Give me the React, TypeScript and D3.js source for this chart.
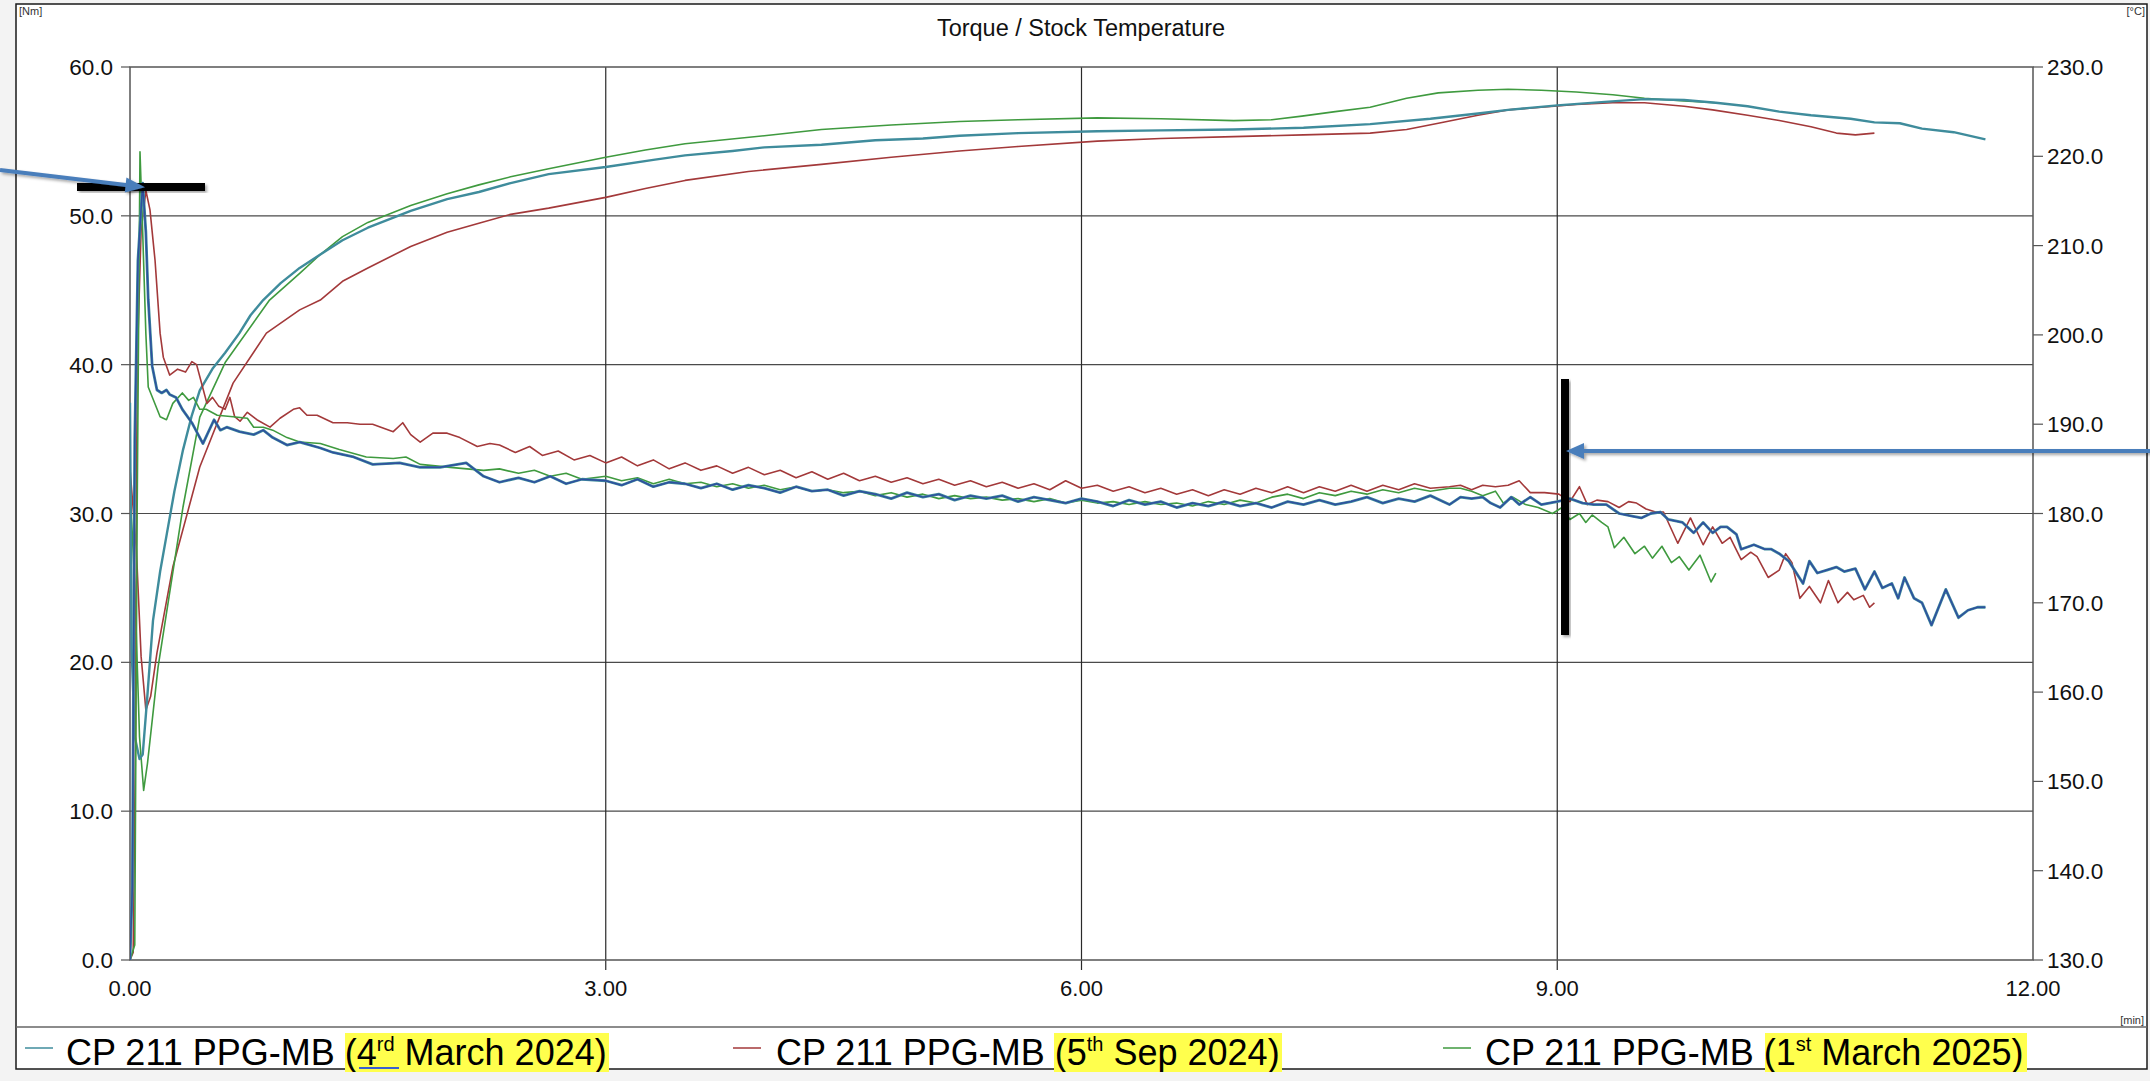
import React from "react";
import * as d3 from "d3";

type P = [number, number];

const xTicks = [0, 3, 6, 9, 12];
const leftTicks = [0, 10, 20, 30, 40, 50, 60];
const rightTicks = [130, 140, 150, 160, 170, 180, 190, 200, 210, 220, 230];
const titleText = "Torque / Stock Temperature";

// Torque [min, Nm]
const torque1: P[] = [
  [0, 0], [0.015, 5], [0.03, 35], [0.05, 47], [0.08, 52.2], [0.1, 48.9], [0.115, 44.4], [0.14, 39.9], [0.17, 38.3],
  [0.2, 38.1], [0.23, 38.3], [0.25, 38.0], [0.29, 37.8], [0.33, 37.0], [0.39, 36.1], [0.46, 34.7], [0.53, 36.3],
  [0.57, 35.6], [0.61, 35.8], [0.69, 35.5], [0.78, 35.3], [0.84, 35.6], [0.9, 35.1], [0.99, 34.6], [1.07, 34.8],
  [1.2, 34.4], [1.28, 34.1], [1.41, 33.8], [1.53, 33.3], [1.7, 33.4], [1.83, 33.1], [1.955, 33.1], [2.12, 33.4],
  [2.23, 32.5], [2.33, 32.1], [2.45, 32.4], [2.55, 32.1], [2.65, 32.5], [2.75, 32.0], [2.85, 32.3], [3.0, 32.2],
  [3.1, 31.9], [3.2, 32.3], [3.3, 31.8], [3.4, 32.1], [3.5, 32.0], [3.6, 31.7], [3.7, 32.0], [3.8, 31.6],
  [3.9, 31.9], [4.0, 31.7], [4.1, 31.4], [4.2, 31.8], [4.3, 31.5], [4.4, 31.6], [4.5, 31.2], [4.6, 31.5],
  [4.7, 31.3], [4.8, 31.0], [4.9, 31.4], [5.0, 31.1], [5.1, 31.3], [5.2, 30.9], [5.3, 31.2], [5.4, 31.0],
  [5.5, 31.2], [5.6, 30.8], [5.7, 31.1], [5.8, 30.9], [5.9, 30.7], [6.0, 31.0], [6.1, 30.8], [6.2, 30.5],
  [6.3, 30.9], [6.4, 30.6], [6.5, 30.8], [6.6, 30.4], [6.7, 30.7], [6.8, 30.5], [6.9, 30.8], [7.0, 30.5],
  [7.1, 30.7], [7.2, 30.4], [7.3, 30.8], [7.4, 30.6], [7.5, 30.9], [7.6, 30.6], [7.7, 30.8], [7.8, 31.1],
  [7.9, 30.7], [8.0, 31.0], [8.1, 30.8], [8.2, 31.2], [8.32, 30.6], [8.39, 31.1], [8.46, 31.0], [8.53, 31.1],
  [8.58, 30.7], [8.64, 30.4], [8.71, 31.1], [8.76, 30.6], [8.83, 31.1], [8.9, 30.6], [9.0, 30.8], [9.08, 31.0],
  [9.16, 30.7], [9.23, 30.6], [9.31, 30.6], [9.39, 30.0], [9.48, 29.8], [9.53, 29.7], [9.59, 30.0], [9.65, 30.1],
  [9.7, 29.6], [9.79, 29.4], [9.86, 28.7], [9.92, 29.4], [9.98, 28.7], [10.03, 29.1], [10.07, 29.1], [10.13, 28.6],
  [10.16, 27.6], [10.24, 27.9], [10.31, 27.6], [10.35, 27.6], [10.4, 27.3], [10.46, 26.8], [10.55, 25.3],
  [10.59, 26.8], [10.64, 26.0], [10.7, 26.2], [10.76, 26.4], [10.81, 26.1], [10.88, 26.3], [10.94, 24.9],
  [11.0, 26.1], [11.05, 25.0], [11.11, 25.3], [11.15, 24.3], [11.19, 25.7], [11.25, 24.3], [11.3, 24.0],
  [11.36, 22.5], [11.45, 24.9], [11.53, 23.0], [11.59, 23.5], [11.65, 23.7], [11.7, 23.7],
];

const torque2: P[] = [
  [0, 0], [0.02, 0.5], [0.035, 15], [0.045, 40], [0.07, 49], [0.1, 51.7], [0.126, 50.4], [0.158, 47], [0.19, 42.1],
  [0.21, 40.5], [0.25, 39.3], [0.3, 39.7], [0.35, 39.5], [0.39, 40.2], [0.42, 40.0], [0.45, 38.8], [0.485, 37.4],
  [0.52, 37.8], [0.56, 37.2], [0.6, 37.0], [0.63, 37.8], [0.66, 36.5], [0.694, 36.2], [0.74, 36.8], [0.8, 36.3],
  [0.883, 35.8], [0.946, 36.4], [1.03, 37.0], [1.07, 37.1], [1.116, 36.6], [1.18, 36.6], [1.28, 36.1], [1.37, 36.1],
  [1.45, 36.0], [1.53, 36.0], [1.66, 35.5], [1.72, 36.1], [1.77, 35.3], [1.83, 34.8], [1.91, 35.4], [2.0, 35.4],
  [2.08, 35.1], [2.19, 34.5], [2.27, 34.7], [2.33, 34.6], [2.43, 34.1], [2.52, 34.5], [2.6, 33.9], [2.7, 34.2],
  [2.8, 33.6], [2.9, 33.9], [3.0, 33.4], [3.1, 33.8], [3.2, 33.2], [3.3, 33.6], [3.4, 33.0], [3.5, 33.4],
  [3.6, 32.9], [3.7, 33.2], [3.8, 32.7], [3.9, 33.1], [4.0, 32.6], [4.1, 32.9], [4.2, 32.4], [4.3, 32.8],
  [4.4, 32.3], [4.5, 32.7], [4.6, 32.2], [4.7, 32.5], [4.8, 32.1], [4.9, 32.4], [5.0, 32.0], [5.1, 32.3],
  [5.2, 31.9], [5.3, 32.2], [5.4, 31.8], [5.5, 32.1], [5.6, 31.7], [5.7, 32.0], [5.8, 31.6], [5.9, 32.2],
  [6.0, 31.7], [6.1, 31.9], [6.2, 31.5], [6.3, 31.8], [6.4, 31.4], [6.5, 31.7], [6.6, 31.3], [6.7, 31.6],
  [6.8, 31.2], [6.9, 31.6], [7.0, 31.3], [7.1, 31.7], [7.2, 31.4], [7.3, 31.8], [7.4, 31.4], [7.5, 31.8],
  [7.6, 31.5], [7.7, 31.9], [7.8, 31.5], [7.9, 31.9], [8.0, 31.6], [8.1, 32.0], [8.2, 31.7], [8.32, 31.8],
  [8.39, 31.9], [8.46, 31.6], [8.53, 31.9], [8.61, 31.8], [8.69, 31.9], [8.76, 32.2], [8.83, 31.4], [8.92, 31.4],
  [9.01, 31.3], [9.08, 30.8], [9.14, 31.8], [9.19, 30.6], [9.25, 30.9], [9.32, 30.8], [9.39, 30.4], [9.45, 30.8],
  [9.5, 30.7], [9.56, 30.3], [9.62, 30.1], [9.67, 30.1], [9.76, 28.0], [9.84, 29.7], [9.92, 27.9], [9.98, 29.1],
  [10.04, 28.0], [10.09, 28.4], [10.16, 26.9], [10.22, 27.4], [10.26, 27.1], [10.33, 25.7], [10.4, 26.2],
  [10.44, 27.3], [10.48, 26.7], [10.53, 24.3], [10.59, 25.1], [10.66, 24.0], [10.71, 25.5], [10.77, 24.0],
  [10.83, 24.7], [10.87, 24.2], [10.93, 24.5], [10.97, 23.7], [11.0, 24.0],
];

const torque3: P[] = [
  [0, 0], [0.03, 1], [0.045, 30], [0.063, 54.3], [0.08, 48.9], [0.1, 42.1], [0.115, 38.5], [0.19, 36.5], [0.23, 36.3],
  [0.27, 37.4], [0.33, 38.1], [0.37, 37.6], [0.4, 37.8], [0.44, 37.0], [0.48, 37.0], [0.55, 36.6], [0.65, 36.5],
  [0.74, 36.4], [0.78, 35.8], [0.84, 35.8], [0.9, 35.6], [0.99, 35.1], [1.07, 34.8], [1.2, 34.7], [1.32, 34.3],
  [1.49, 33.8], [1.66, 33.7], [1.74, 33.8], [1.83, 33.3], [2.02, 33.1], [2.23, 32.9], [2.33, 33.0], [2.45, 32.7],
  [2.55, 32.9], [2.65, 32.5], [2.75, 32.7], [2.85, 32.3], [3.0, 32.5], [3.1, 32.2], [3.2, 32.4], [3.3, 32.0],
  [3.4, 32.3], [3.5, 32.0], [3.6, 32.1], [3.7, 31.8], [3.8, 32.0], [3.9, 31.7], [4.0, 31.9], [4.1, 31.6],
  [4.2, 31.8], [4.3, 31.5], [4.4, 31.6], [4.5, 31.4], [4.6, 31.5], [4.7, 31.2], [4.8, 31.4], [4.9, 31.1],
  [5.0, 31.3], [5.1, 31.0], [5.2, 31.2], [5.3, 31.0], [5.4, 31.1], [5.5, 30.9], [5.6, 31.0], [5.7, 30.8],
  [5.8, 31.0], [5.9, 30.7], [6.0, 30.9], [6.1, 30.7], [6.2, 30.8], [6.3, 30.6], [6.4, 30.8], [6.5, 30.6],
  [6.6, 30.7], [6.7, 30.5], [6.8, 30.8], [6.9, 30.6], [7.0, 30.9], [7.1, 30.7], [7.2, 31.1], [7.3, 31.3],
  [7.4, 31.0], [7.5, 31.4], [7.6, 31.2], [7.7, 31.5], [7.8, 31.3], [7.9, 31.6], [8.0, 31.4], [8.1, 31.7],
  [8.2, 31.5], [8.32, 31.7], [8.39, 31.7], [8.46, 31.5], [8.53, 31.2], [8.61, 31.5], [8.66, 30.7], [8.72, 31.1],
  [8.8, 30.6], [8.88, 30.4], [8.97, 30.0], [9.03, 30.4], [9.08, 29.6], [9.14, 30.0], [9.18, 29.4], [9.22, 29.9],
  [9.28, 29.4], [9.32, 29.1], [9.36, 27.7], [9.42, 28.4], [9.49, 27.3], [9.55, 27.8], [9.6, 27.0], [9.66, 27.8],
  [9.72, 26.7], [9.77, 27.1], [9.83, 26.2], [9.9, 27.2], [9.97, 25.4], [10.0, 26.0],
];

// Stock temperature [min, °C]
const temp1: P[] = [
  [0, 192.4], [0.01, 165], [0.03, 155], [0.06, 152.5], [0.08, 153], [0.107, 159], [0.145, 168], [0.19, 173.5],
  [0.233, 177.8], [0.28, 182.5], [0.334, 187.1], [0.39, 191], [0.44, 193.8], [0.52, 196.2], [0.6, 198],
  [0.69, 200.2], [0.76, 202.2], [0.84, 203.9], [0.95, 205.8], [1.07, 207.5], [1.2, 209], [1.34, 210.6],
  [1.5, 212], [1.77, 213.9], [2.0, 215.2], [2.2, 216], [2.4, 217], [2.64, 218], [3.0, 218.8], [3.3, 219.6],
  [3.5, 220.1], [3.8, 220.6], [4.0, 221], [4.36, 221.3], [4.7, 221.8], [5.0, 222.0], [5.23, 222.3], [5.6, 222.6],
  [6.1, 222.8], [6.5, 222.9], [6.96, 223.0], [7.4, 223.2], [7.82, 223.6], [8.2, 224.2], [8.5, 224.8], [8.69, 225.2],
  [9.0, 225.7], [9.3, 226.1], [9.55, 226.4], [9.8, 226.3], [10.0, 226.0], [10.2, 225.6], [10.4, 225.0],
  [10.6, 224.6], [10.85, 224.2], [11.0, 223.8], [11.16, 223.7], [11.3, 223.1], [11.5, 222.7], [11.7, 221.9],
];

const temp2: P[] = [
  [0, 185], [0.04, 176], [0.07, 164], [0.1, 158], [0.13, 159.5], [0.17, 164.4], [0.27, 174], [0.44, 185.2],
  [0.65, 194.6], [0.86, 200.2], [1.07, 202.8], [1.2, 203.9], [1.34, 206], [1.5, 207.5], [1.77, 209.9], [2.0, 211.5],
  [2.2, 212.5], [2.4, 213.5], [2.64, 214.2], [3.0, 215.4], [3.25, 216.4], [3.5, 217.3], [3.9, 218.3], [4.36, 219.1],
  [4.8, 219.9], [5.23, 220.6], [5.6, 221.1], [6.1, 221.7], [6.5, 222.0], [6.96, 222.2], [7.4, 222.4], [7.82, 222.6],
  [8.05, 223.0], [8.25, 223.7], [8.5, 224.6], [8.69, 225.2], [8.9, 225.5], [9.12, 225.8], [9.35, 226.0],
  [9.55, 226.0], [9.8, 225.6], [9.98, 225.2], [10.2, 224.6], [10.4, 224.0], [10.6, 223.3], [10.76, 222.6],
  [10.88, 222.4], [11.0, 222.6],
];

const temp3: P[] = [
  [0, 183], [0.03, 172], [0.06, 155], [0.086, 149], [0.11, 152], [0.177, 162.8], [0.334, 180.7], [0.44, 190.8],
  [0.6, 196.9], [0.88, 203.9], [1.07, 206.9], [1.2, 209], [1.34, 211.0], [1.5, 212.6], [1.77, 214.5], [2.0, 215.8],
  [2.2, 216.8], [2.4, 217.7], [2.64, 218.6], [3.0, 219.9], [3.25, 220.7], [3.5, 221.4], [4.0, 222.3], [4.36, 223.0],
  [4.8, 223.5], [5.23, 223.9], [5.6, 224.1], [6.1, 224.3], [6.5, 224.2], [6.96, 224.0], [7.2, 224.1], [7.39, 224.5],
  [7.6, 225.0], [7.82, 225.5], [8.05, 226.5], [8.25, 227.1], [8.5, 227.4], [8.69, 227.5], [8.9, 227.4],
  [9.12, 227.2], [9.35, 226.9], [9.55, 226.5], [9.8, 226.2], [10.0, 226.0],
];

const legendNames = ["CP 211 PPG-MB ", "CP 211 PPG-MB ", "CP 211 PPG-MB "];
const legendDates: [string, string, string][] = [
  ["(4", "rd", " March 2024)"],
  ["(5", "th", " Sep 2024)"],
  ["(1", "st", " March 2025)"],
];

const FONT = "'Liberation Sans', Arial, Helvetica, sans-serif";
const TEAL = "#3f8c9c";
const BLUE = "#2f4f9f";
const RED = "#a3393a";
const GREEN = "#3f9a3f";
const ARROW = "#4a7ebb";

export default function App() {
  const L = 130, R = 2033, T = 67, B = 960;
  const x = d3.scaleLinear().domain([0, 12]).range([L, R]);
  const yL = d3.scaleLinear().domain([0, 60]).range([B, T]);
  const yR = d3.scaleLinear().domain([130, 230]).range([B, T]);
  const lineL = d3.line<P>().x((d) => x(d[0])).y((d) => yL(d[1]));
  const lineR = d3.line<P>().x((d) => x(d[0])).y((d) => yR(d[1]));

  const legendItems = [
    { color: TEAL, lx: 25, tx: 66, hx0: 345, hx1: 609 },
    { color: RED, lx: 733, tx: 776, hx0: 1054, hx1: 1282 },
    { color: GREEN, lx: 1443, tx: 1485, hx0: 1765, hx1: 2027 },
  ];

  return (
    <svg
      width={2150}
      height={1081}
      style={{ position: "absolute", left: 0, top: 0, display: "block" }}
      fontFamily={FONT}
    >
      <defs>
        <clipPath id="plotClip">
          <rect x={L} y={T - 10} width={R - L} height={B - T + 10} />
        </clipPath>
        <clipPath id="frameClip">
          <rect x={16} y={4} width={2131} height={1068} />
        </clipPath>
        <filter id="shadow" x="-20%" y="-20%" width="140%" height="140%">
          <feDropShadow dx="2" dy="2" stdDeviation="1.5" floodColor="#000" floodOpacity="0.35" />
        </filter>
      </defs>

      <rect x={0} y={0} width={2150} height={1081} fill="#f3f3f3" />
      <rect x={16} y={4} width={2131} height={1065} fill="#fff" stroke="#1a1a1a" strokeWidth={1.5} />

      {/* units */}
      <text x={19} y={15} fontSize={11} fill="#333">[Nm]</text>
      <text x={2145} y={15} fontSize={11} fill="#333" textAnchor="end">[°C]</text>
      <text x={2144} y={1024} fontSize={11} fill="#333" textAnchor="end">[min]</text>

      {/* title */}
      <text x={1081} y={36} fontSize={23.5} textAnchor="middle" fill="#111">{titleText}</text>

      {/* grid */}
      {leftTicks.filter((v) => v > 0 && v < 60).map((v) => (
        <line key={"h" + v} x1={L} x2={R} y1={yL(v)} y2={yL(v)} stroke="#4a4a4a" strokeWidth={1.2} />
      ))}
      {xTicks.filter((v) => v > 0 && v < 12).map((v) => (
        <line key={"v" + v} x1={x(v)} x2={x(v)} y1={T} y2={B + 10} stroke="#2a2a2a" strokeWidth={1.2} />
      ))}
      <rect x={L} y={T} width={R - L} height={B - T} fill="none" stroke="#555" strokeWidth={1.5} />

      {/* left axis */}
      {leftTicks.map((v) => (
        <g key={"l" + v}>
          <line x1={L - 9} x2={L} y1={yL(v)} y2={yL(v)} stroke="#555" strokeWidth={1.2} />
          <text x={113} y={yL(v) + 8} fontSize={22.5} textAnchor="end" fill="#111">{v.toFixed(1)}</text>
        </g>
      ))}
      {/* right axis */}
      {rightTicks.map((v) => (
        <g key={"r" + v}>
          <line x1={R} x2={R + 10} y1={yR(v)} y2={yR(v)} stroke="#555" strokeWidth={1.2} />
          <text x={2047} y={yR(v) + 8} fontSize={22.5} textAnchor="start" fill="#111">{v.toFixed(1)}</text>
        </g>
      ))}
      {/* x axis labels */}
      {xTicks.map((v) => (
        <text key={"x" + v} x={x(v)} y={996} fontSize={22} textAnchor="middle" fill="#111">{v.toFixed(2)}</text>
      ))}

      {/* series */}
      <g clipPath="url(#plotClip)" fill="none" strokeLinejoin="round">
        <path d={lineR(temp2) || ""} stroke={RED} strokeWidth={1.6} />
        <path d={lineR(temp3) || ""} stroke={GREEN} strokeWidth={1.6} />
        <path d={lineR(temp1) || ""} stroke={TEAL} strokeWidth={2.4} />
        <path d={lineL(torque2) || ""} stroke={RED} strokeWidth={1.6} />
        <path d={lineL(torque3) || ""} stroke={GREEN} strokeWidth={1.6} />
        <path d={lineL(torque1) || ""} stroke={TEAL} strokeWidth={2.8} />
        <path d={lineL(torque1) || ""} stroke={BLUE} strokeWidth={1.5} />
      </g>

      {/* legend */}
      <line x1={16} x2={2147} y1={1027} y2={1027} stroke="#666" strokeWidth={1.5} />
      <g clipPath="url(#frameClip)">
        {legendItems.map((it, i) => (
          <g key={"lg" + i}>
            <rect x={it.hx0} y={1033} width={it.hx1 - it.hx0} height={40} fill="#ffff4d" />
            <line x1={it.lx} x2={it.lx + 28} y1={1048} y2={1048} stroke={it.color} strokeWidth={1.5} />
            <text x={it.tx} y={1065} fontSize={36} fill="#000">
              {legendNames[i]}
              <tspan>{legendDates[i][0]}</tspan>
              <tspan fontSize={20} dy={-14}>{legendDates[i][1]}</tspan>
              <tspan dy={14}>{legendDates[i][2]}</tspan>
            </text>
          </g>
        ))}
        <line x1={359} x2={399} y1={1068} y2={1068} stroke="#3a5fd0" strokeWidth={2} />
      </g>

      {/* annotations */}
      <rect x={77} y={183} width={128} height={8} fill="#000" filter="url(#shadow)" />
      <rect x={1561} y={379} width={8} height={256} fill="#000" filter="url(#shadow)" />
      <g filter="url(#shadow)">
        <line x1={0} y1={170} x2={128} y2={185.3} stroke={ARROW} strokeWidth={4} />
        <polygon points="145,187.3 126.4,177.6 124.8,192.5" fill={ARROW} />
        <line x1={2150} y1={451} x2={1582} y2={451} stroke={ARROW} strokeWidth={4} />
        <polygon points="1566,451 1584,443 1584,459" fill={ARROW} />
      </g>
    </svg>
  );
}
